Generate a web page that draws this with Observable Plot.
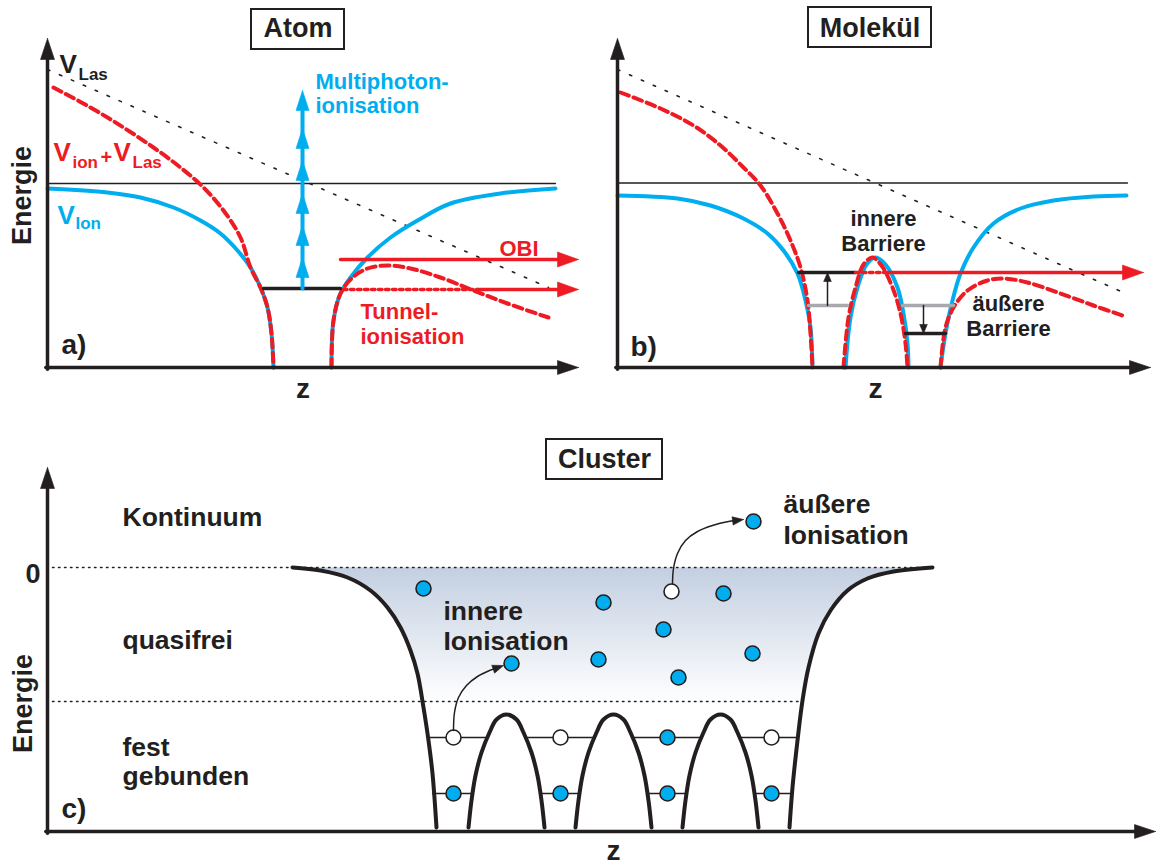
<!DOCTYPE html>
<html>
<head>
<meta charset="utf-8">
<script src="https://cdn.jsdelivr.net/npm/d3@7"></script>
<script src="https://cdn.jsdelivr.net/npm/@observablehq/plot@0.6"></script>
<style>
html, body { margin: 0; padding: 0; background: #fff; }
#fig { position: relative; width: 1156px; height: 866px; overflow: hidden; background: #fff; }
#fig svg { position: absolute; overflow: visible; }
</style>
</head>
<body>
<div id="fig"></div>
<script>
// ===== Data (z = position, E = energy; arbitrary units) =====

// ---- a) Atom ----
const atomAxisY = [[0, 0], [0, 32.9]];
const atomAxisX = [[0, 0], [53.1, 0]];
const atomLaser = [[0, 29.8], [50.1, 8.0]];
const atomContinuum = [[0, 18.4], [50.8, 18.4]];
const atomIonLeft = [[0, 17.9], [6.0, 17.5], [9.3, 17.0], [12.6, 16.0], [15.3, 14.7], [17.3, 13.4], [19.0, 11.7], [20.3, 10.0], [21.3, 8.0], [22.0, 6.0], [22.4, 3.4], [22.6, 0]];
const atomIonRight = [[28.4, 0], [28.6, 4.7], [29.3, 7.4], [30.3, 9.0], [32.0, 11.0], [34.3, 13.0], [37.0, 14.7], [40.3, 16.4], [45.3, 17.4], [50.8, 17.9]];
const atomTotalLeft = [[0.6, 28.0], [4.3, 26.0], [7.6, 24.0], [10.6, 22.0], [13.3, 20.0], [15.6, 18.0], [17.6, 15.7], [19.3, 13.0], [20.3, 10.0], [21.3, 8.0], [22.0, 6.0], [22.4, 3.4], [22.6, 0]];
const atomTotalRight = [[28.4, 0], [28.6, 4.7], [29.3, 7.4], [30.4, 8.9], [32.0, 9.9], [34.0, 10.2], [36.3, 9.9], [39.3, 9.0], [42.6, 7.7], [46.0, 6.4], [50.1, 5.0]];
const atomGround = [[21.6, 7.9], [29.3, 7.9]];
const photonZ = 25.5;
const photonLevels = [7.9, 11.0, 14.2, 17.4, 20.7, 23.9, 27.7];
const atomOBIArrow = [[29.3, 10.8], [53.1, 10.8]];
const atomTunnelDotted = [[29.6, 7.8], [43.0, 7.8]];
const atomTunnelArrow = [[43.0, 7.8], [53.1, 7.8]];
const atomTitleBox = [{z1: 20.4, z2: 29.7, E1: 31.8, E2: 35.8}];
const atomTitle = [{z: 25.05, E: 33.9, t: "Atom"}];
const atomBigBlack = [{z: 1.2, E: 29.5, t: "V"}];
const atomSubBlack = [{z: 3.1, E: 28.8, t: "Las"}];
const atomBigRed = [{z: 0.6, E: 20.7, t: "V"}, {z: 6.6, E: 20.7, t: "V"}];
const atomSubRed = [{z: 2.5, E: 20.0, t: "ion"}, {z: 8.5, E: 20.0, t: "Las"}];
const atomPlusRed = [{z: 5.3, E: 20.4, t: "+"}];
const atomBigBlue = [{z: 1.0, E: 14.4, t: "V"}];
const atomSubBlue = [{z: 2.8, E: 13.9, t: "Ion"}];
const atomBlueText = [{z: 26.8, E: 27.9, t: "Multiphoton-"}, {z: 26.8, E: 25.5, t: "ionisation"}];
const atomRedText = [{z: 31.3, E: 4.9, t: "Tunnel-"}, {z: 31.3, E: 2.4, t: "ionisation"}];
const atomOBIText = [{z: 49.1, E: 11.2, t: "OBI"}];
const atomTag = [{z: 1.4, E: 1.4, t: "a)"}];
const atomZLabel = [{z: 25.55, E: -3.0, t: "z"}];
const atomEnergyLabel = [{z: -2.5, E: 17.2, t: "Energie"}];

// ---- b) Molekül ----
const molAxisY = [[0, 0], [0, 32.9]];
const molAxisX = [[0, 0], [53.3, 0]];
const molLaser = [[0, 29.8], [50.6, 7.5]];
const molContinuum = [[0, 18.45], [51.0, 18.45]];
const molIonLeft = [[0, 17.2], [6.0, 16.9], [9.3, 16.2], [12.6, 14.9], [15.0, 13.4], [16.6, 11.7], [18.0, 9.4], [18.8, 6.7], [19.3, 4.0], [19.5, 0]];
const molIonMid = [[22.8, 0], [23.3, 5.0], [24.0, 8.0], [24.9, 10.3], [25.8, 11.0], [26.8, 10.3], [28.0, 8.0], [28.6, 5.4], [29.0, 2.4], [29.1, 0]];
const molIonRight = [[32.3, 0], [32.8, 3.4], [33.5, 6.7], [34.3, 9.4], [35.6, 12.0], [37.6, 14.4], [40.3, 15.9], [43.6, 16.7], [47.6, 17.1], [50.9, 17.2]];
const molTotalLeft = [[0.3, 27.5], [4.3, 25.9], [7.6, 24.2], [10.3, 22.2], [12.6, 20.0], [14.3, 18.2], [16.0, 15.4], [17.3, 12.7], [18.3, 10.0], [19.0, 6.7], [19.3, 3.4], [19.5, 0]];
const molTotalMid = [[22.6, 0], [23.1, 5.0], [23.8, 8.0], [24.6, 10.3], [25.5, 11.0], [26.4, 10.2], [27.5, 8.0], [28.3, 5.4], [28.8, 2.4], [29.0, 0]];
const molTotalRight = [[32.3, 0], [32.8, 4.0], [33.6, 6.0], [35.0, 7.7], [37.0, 8.7], [38.6, 8.9], [41.0, 8.5], [44.3, 7.4], [47.6, 6.2], [50.5, 5.2]];
const molLevelsBlack = [[[18.1, 9.5], [23.8, 9.5]], [[28.8, 3.4], [32.8, 3.4]]];
const molLevelsGray = [[[19.1, 6.2], [23.0, 6.2]], [[28.5, 6.2], [33.6, 6.2]]];
const molShiftArrows = [[[21.0, 6.2], [21.0, 9.5]], [[30.6, 6.2], [30.6, 3.4]]];
const molRedDotted = [[23.8, 9.5], [26.6, 9.5]];
const molRedArrow = [[26.6, 9.5], [52.6, 9.5]];
const molTitleBox = [{z1: 19.1, z2: 31.4, E1: 32.0, E2: 36.0}];
const molTitle = [{z: 25.25, E: 33.9, t: "Molekül"}];
const molText = [{z: 26.6, E: 14.2, t: "innere"}, {z: 26.6, E: 11.7, t: "Barriere"}, {z: 39.1, E: 5.7, t: "äußere"}, {z: 39.1, E: 3.2, t: "Barriere"}];
const molTag = [{z: 1.3, E: 1.2, t: "b)"}];
const molZLabel = [{z: 25.8, E: -3.0, t: "z"}];

// ---- c) Cluster ----
const clAxisY = [[0, -26.4], [0, 10.0]];
const clAxisX = [[0, -26.4], [110.8, -26.4]];
const clZeroLine = [[0.5, 0], [88.5, 0]];
const clBoundLine = [[0.5, -13.4], [75.5, -13.4]];
const clWallLeft = [[24.5, 0], [27.3, -0.3], [30.0, -1.0], [32.3, -2.3], [34.0, -4.0], [35.3, -6.0], [36.3, -8.3], [37.0, -10.6], [37.6, -14.0], [38.1, -17.3], [38.5, -20.6], [38.9, -26.0]];
const clWallRight = [[74.2, -26.0], [74.5, -22.0], [75.0, -17.3], [75.5, -13.3], [76.1, -10.0], [77.1, -6.6], [78.3, -4.3], [80.0, -2.3], [82.0, -1.1], [84.6, -0.4], [88.5, 0]];
const arcE = [-26.0, -23.3, -20.8, -18.5, -16.5, -15.2, -14.7, -15.2, -16.5, -18.5, -20.8, -23.3, -26.0];
const arc1Z = [42.1, 42.4, 42.8, 43.4, 44.2, 44.9, 45.9, 46.9, 47.6, 48.4, 49.0, 49.4, 49.7];
const arc2Z = [52.8, 53.1, 53.5, 54.1, 54.9, 55.6, 56.6, 57.6, 58.3, 59.1, 59.7, 60.1, 60.4];
const arc3Z = [63.5, 63.8, 64.2, 64.8, 65.6, 66.3, 67.3, 68.3, 69.0, 69.8, 70.4, 70.8, 71.1];
const clLevels = [[[38.1, -17.0], [75.0, -17.0]], [[38.5, -22.6], [74.5, -22.6]]];
const boundZ = [40.6, 51.3, 62.0, 72.4];
const upperE = -17.0;
const lowerE = -22.6;
const upperOccupied = [false, false, true, false];
const freeElectrons = [[37.6, -2.1], [46.4, -9.6], [55.6, -3.5], [61.6, -6.2], [55.1, -9.2], [70.5, -8.6], [63.1, -11.0], [67.6, -2.6], [70.6, 4.6]];
const freeHoles = [[62.4, -2.4]];
const innerIonPath = [[40.6, -16.3], [40.7, -14.5], [41.1, -13.0], [41.9, -11.8], [43.0, -10.9], [44.2, -10.3], [45.6, -9.8]];
const outerIonPath = [[62.5, -1.6], [62.6, -0.1], [63.0, 1.4], [63.8, 2.7], [65.0, 3.6], [66.5, 4.2], [68.1, 4.6], [69.6, 4.8]];
const clTitleBox = [{z1: 49.9, z2: 61.5, E1: 8.8, E2: 12.8}];
const clTitle = [{z: 55.7, E: 10.8, t: "Cluster"}];
const clRegionText = [{z: 7.5, E: 4.2, t: "Kontinuum"}, {z: 7.5, E: -8.1, t: "quasifrei"}, {z: 7.5, E: -18.8, t: "fest"}, {z: 7.5, E: -21.7, t: "gebunden"}];
const clIonText = [{z: 39.6, E: -5.2, t: "innere"}, {z: 39.6, E: -8.2, t: "Ionisation"}, {z: 73.6, E: 5.5, t: "äußere"}, {z: 73.6, E: 2.4, t: "Ionisation"}];
const clZeroText = [{z: -0.7, E: -1.5, t: "0"}];
const clTag = [{z: 1.4, E: -25.0, t: "c)"}];
const clZLabel = [{z: 56.6, E: -29.2, t: "z"}];
const clEnergyLabel = [{z: -2.4, E: -13.6, t: "Energie"}];

// ===== Styling & helpers =====
const BLUE = "#00aeef", RED = "#ed1c24", INK = "#231f20", GRAY = "#a7a9ac";
const FONT = "'Liberation Sans', Arial, Helvetica, sans-serif";
const PX = 10; // pixels per unit on both axes
const X = d => d[0], Y = d => d[1];

function seg(data, o) { return Plot.line(data, {x: X, y: Y, ...o}); }
function smooth(data, o) { return Plot.line(data, {x: X, y: Y, curve: "catmull-rom", ...o}); }
function back(tip, from, len) {
  const dx = tip[0] - from[0], dy = tip[1] - from[1], L = Math.hypot(dx, dy);
  return [tip[0] - dx / L * len / PX, tip[1] - dy / L * len / PX];
}
function heads(pairs, len, half, color) {
  const pts = [];
  pairs.forEach(([tip, from], k) => {
    const dx = tip[0] - from[0], dy = tip[1] - from[1], L = Math.hypot(dx, dy);
    const ux = dx / L, uy = dy / L, l = len / PX, h = half / PX;
    const bx = tip[0] - ux * l, by = tip[1] - uy * l;
    pts.push([tip[0], tip[1], k], [bx - uy * h, by + ux * h, k], [bx + uy * h, by - ux * h, k], [tip[0], tip[1], k]);
  });
  return Plot.line(pts, {x: X, y: Y, z: d => d[2], fill: color, stroke: color, strokeWidth: 0.6, strokeLinejoin: "miter"});
}
function straightArrow(line, o) {
  const a = line[0], b = line[line.length - 1];
  return [seg([a, back(b, a, o.len * 0.6)], {stroke: o.color, strokeWidth: o.width}), heads([[b, a]], o.len, o.half, o.color)];
}
function curvedArrow(path, o) {
  const n = path.length, tip = path[n - 1], prev = path[n - 2];
  const shaft = path.slice(0, n - 1).concat([back(tip, prev, o.len * 0.5)]);
  return [smooth(shaft, {stroke: o.color, strokeWidth: o.width}), heads([[tip, prev]], o.len, o.half, o.color)];
}
function axes(yLine, xLine) {
  const ya = [[yLine[0][0], yLine[0][1] - 0.17], yLine[1]];
  const xa = [[xLine[0][0] - 0.17, xLine[0][1]], xLine[1]];
  return [straightArrow(ya, {color: INK, width: 3.5, len: 21, half: 7}), straightArrow(xa, {color: INK, width: 3.5, len: 21, half: 7})];
}
function labels(data, o) {
  return Plot.text(data, {x: "z", y: "E", text: "t", fontWeight: "bold", lineAnchor: "bottom", textAnchor: "start", fill: INK, ...o});
}
function titleBox(box, title, size) {
  return [
    Plot.rect(box, {x1: "z1", x2: "z2", y1: "E1", y2: "E2", fill: "white", stroke: INK, strokeWidth: 2}),
    labels(title, {textAnchor: "middle", lineAnchor: "middle", fontSize: size})
  ];
}
function panel(pos, scales, marks) {
  const svg = Plot.plot({
    width: pos.width, height: pos.height, margin: 0,
    x: {domain: scales.xd, range: scales.xr, axis: null},
    y: {domain: scales.yd, range: scales.yr, axis: null},
    style: {background: "transparent", overflow: "visible", fontFamily: FONT},
    marks: marks.flat(Infinity)
  });
  svg.style.left = pos.left + "px";
  svg.style.top = pos.top + "px";
  svg.style.maxWidth = "none";
  document.getElementById("fig").appendChild(svg);
  return svg;
}

const CURVE_W = 4;
const DASH = "9,5";

// ===== Panel a) Atom =====
panel({left: 0, top: 0, width: 590, height: 420},
  {xd: [0, 53.1], xr: [47, 578], yd: [0, 32.9], yr: [367, 38]},
  [
    seg(atomContinuum, {stroke: INK, strokeWidth: 1.3}),
    seg(atomLaser, {stroke: INK, strokeWidth: 1.6, strokeDasharray: "2.5,10.5"}),
    smooth(atomIonLeft, {stroke: BLUE, strokeWidth: CURVE_W}),
    smooth(atomIonRight, {stroke: BLUE, strokeWidth: CURVE_W}),
    smooth(atomTotalLeft, {stroke: RED, strokeWidth: CURVE_W, strokeDasharray: DASH}),
    smooth(atomTotalRight, {stroke: RED, strokeWidth: CURVE_W, strokeDasharray: DASH}),
    seg(atomGround, {stroke: INK, strokeWidth: 3.5}),
    seg([[photonZ, photonLevels[0]], back([photonZ, photonLevels[6]], [photonZ, photonLevels[5]], 12)], {stroke: BLUE, strokeWidth: 4}),
    heads(photonLevels.slice(1).map((e, i) => [[photonZ, e], [photonZ, photonLevels[i]]]), 20, 6.5, BLUE),
    straightArrow(atomOBIArrow, {color: RED, width: 3.5, len: 21, half: 7.5}),
    seg(atomTunnelDotted, {stroke: RED, strokeWidth: 3.5, strokeDasharray: "3.5,3.5"}),
    straightArrow(atomTunnelArrow, {color: RED, width: 3.5, len: 21, half: 7.5}),
    axes(atomAxisY, atomAxisX),
    titleBox(atomTitleBox, atomTitle, 27),
    labels(atomBigBlack, {fontSize: 26}),
    labels(atomSubBlack, {fontSize: 17}),
    labels(atomBigRed, {fontSize: 26, fill: RED}),
    labels(atomSubRed, {fontSize: 17, fill: RED}),
    labels(atomPlusRed, {fontSize: 20, fill: RED}),
    labels(atomBigBlue, {fontSize: 26, fill: BLUE}),
    labels(atomSubBlue, {fontSize: 17, fill: BLUE}),
    labels(atomBlueText, {fontSize: 22, fill: BLUE}),
    labels(atomRedText, {fontSize: 22, fill: RED}),
    labels(atomOBIText, {fontSize: 22, fill: RED, textAnchor: "end"}),
    labels(atomTag, {fontSize: 28}),
    labels(atomZLabel, {fontSize: 28, textAnchor: "middle"}),
    labels(atomEnergyLabel, {fontSize: 27, textAnchor: "middle", lineAnchor: "middle", rotate: -90})
  ]);

// ===== Panel b) Molekül =====
panel({left: 590, top: 0, width: 566, height: 420},
  {xd: [0, 53.3], xr: [27, 560], yd: [0, 32.9], yr: [367, 38]},
  [
    seg(molContinuum, {stroke: INK, strokeWidth: 1.3}),
    seg(molLaser, {stroke: INK, strokeWidth: 1.6, strokeDasharray: "2.5,10.5"}),
    smooth(molIonLeft, {stroke: BLUE, strokeWidth: CURVE_W}),
    smooth(molIonMid, {stroke: BLUE, strokeWidth: CURVE_W}),
    smooth(molIonRight, {stroke: BLUE, strokeWidth: CURVE_W}),
    smooth(molTotalLeft, {stroke: RED, strokeWidth: CURVE_W, strokeDasharray: DASH}),
    smooth(molTotalMid, {stroke: RED, strokeWidth: CURVE_W, strokeDasharray: DASH}),
    smooth(molTotalRight, {stroke: RED, strokeWidth: CURVE_W, strokeDasharray: DASH}),
    molLevelsGray.map(l => seg(l, {stroke: GRAY, strokeWidth: 3.5})),
    molLevelsBlack.map(l => seg(l, {stroke: INK, strokeWidth: 3.5})),
    molShiftArrows.map(l => straightArrow(l, {color: INK, width: 1.5, len: 9, half: 3.8})),
    seg(molRedDotted, {stroke: RED, strokeWidth: 3.5, strokeDasharray: "3.5,3.5"}),
    straightArrow(molRedArrow, {color: RED, width: 3.5, len: 21, half: 7.5}),
    axes(molAxisY, molAxisX),
    titleBox(molTitleBox, molTitle, 27),
    labels(molText, {fontSize: 22, textAnchor: "middle"}),
    labels(molTag, {fontSize: 28}),
    labels(molZLabel, {fontSize: 28, textAnchor: "middle"})
  ]);

// ===== Panel c) Cluster =====
const zip = zs => zs.map((z, i) => [z, arcE[i]]);
const svgC = panel({left: 0, top: 420, width: 1156, height: 446},
  {xd: [0, 110.8], xr: [47, 1155], yd: [-26.4, 10.0], yr: [411, 47]},
  [
    seg(clWallLeft.concat(clWallRight), {fill: "url(#clusterFade)", stroke: "none"}),
    seg(clZeroLine, {stroke: INK, strokeWidth: 1.5, strokeDasharray: "1.5,4.5"}),
    seg(clBoundLine, {stroke: INK, strokeWidth: 1.5, strokeDasharray: "1.5,4.5"}),
    clLevels.map(l => seg(l, {stroke: INK, strokeWidth: 1.3})),
    [arc1Z, arc2Z, arc3Z].map(a => smooth(zip(a), {stroke: INK, strokeWidth: 4, fill: "white"})),
    smooth(clWallLeft, {stroke: INK, strokeWidth: 4}),
    smooth(clWallRight, {stroke: INK, strokeWidth: 4}),
    axes(clAxisY, clAxisX),
    Plot.dot(boundZ.map(z => [z, lowerE]), {x: X, y: Y, r: 7.5, fill: BLUE, stroke: INK, strokeWidth: 1.6}),
    Plot.dot(boundZ.map((z, i) => [z, upperE, upperOccupied[i]]), {x: X, y: Y, r: 7.5, fill: d => d[2] ? BLUE : "white", stroke: INK, strokeWidth: 1.6}),
    Plot.dot(freeElectrons, {x: X, y: Y, r: 7.5, fill: BLUE, stroke: INK, strokeWidth: 1.6}),
    Plot.dot(freeHoles, {x: X, y: Y, r: 7.5, fill: "white", stroke: INK, strokeWidth: 1.6}),
    curvedArrow(innerIonPath, {color: INK, width: 1.5, len: 11, half: 4.2}),
    curvedArrow(outerIonPath, {color: INK, width: 1.5, len: 11, half: 4.2}),
    titleBox(clTitleBox, clTitle, 27),
    labels(clRegionText, {fontSize: 26.5}),
    labels(clIonText, {fontSize: 26.5}),
    labels(clZeroText, {fontSize: 27, textAnchor: "end"}),
    labels(clTag, {fontSize: 28}),
    labels(clZLabel, {fontSize: 28, textAnchor: "middle"}),
    labels(clEnergyLabel, {fontSize: 27, textAnchor: "middle", lineAnchor: "middle", rotate: -90})
  ]);

// gradient for the quasi-free region
const defs = d3.select(svgC).insert("defs", ":first-child");
const grad = defs.append("linearGradient").attr("id", "clusterFade").attr("x1", 0).attr("y1", 0).attr("x2", 0).attr("y2", 1);
grad.append("stop").attr("offset", "0").attr("stop-color", "#c3cfe1");
grad.append("stop").attr("offset", "0.52").attr("stop-color", "#ffffff");
</script>
</body>
</html>
